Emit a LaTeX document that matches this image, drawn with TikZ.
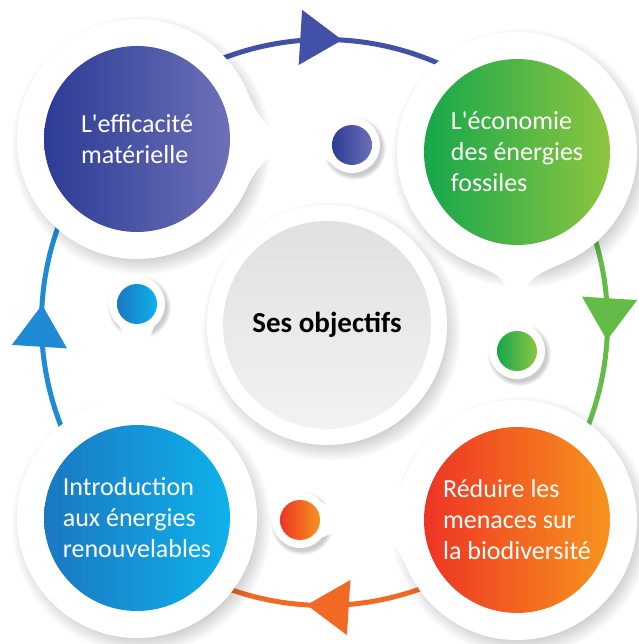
\documentclass[tikz,border=0pt]{standalone}
\usepackage{fontspec}
\setmainfont{Carlito}
\usetikzlibrary{arrows.meta, positioning, decorations.markings, fadings}

\definecolor{effblue}{HTML}{2C3B94}
\definecolor{effbluelt}{HTML}{6C70B8}
\definecolor{fosgreen}{HTML}{16A74B}
\definecolor{fosgreenlt}{HTML}{8DC63F}
\definecolor{bioorange}{HTML}{EE3424}
\definecolor{bioorangelt}{HTML}{F7941D}
\definecolor{renblue}{HTML}{1A78C2}
\definecolor{renbluelt}{HTML}{0FB1EC}
\definecolor{arcblue}{HTML}{4250A7}
\definecolor{arcgreen}{HTML}{62BC46}
\definecolor{arcorange}{HTML}{F06A25}
\definecolor{arcsky}{HTML}{1E8BD4}

\tikzset{
  plate/.style={circle, fill=white, minimum size=#1, inner sep=0pt},
  plateshadow/.style={fill=black, opacity=0.2, path fading=circle with fuzzy edge 15 percent},
  goal/.style={circle, minimum size=186pt, inner sep=0pt, text=white, align=left,
               font=\fontsize{26}{31}\selectfont},
  dot/.style={circle, minimum size=40pt, inner sep=0pt},
  ringarc/.style={line width=5pt,
    postaction={decorate, decoration={markings,
      mark=at position 0.54 with {\arrow{Triangle[length=42pt, width=54pt]}}}}},
}

% white neck from a plate to its small dot (plate centre, direction, distance)
\newcommand{\neck}[3]{%
  \begin{scope}[shift={(#1)}, rotate=#2]
    \pgfmathsetmacro\nm{(92+#3)/2}
    \fill[white] (24:120) .. controls +(-66:30) and (\nm-20,9) .. (\nm,9)
      .. controls (\nm+12,9) and (#3-24,13) .. (#3-16,22)
      -- (#3-16,-22) .. controls (#3-24,-13) and (\nm+12,-9) .. (\nm,-9)
      .. controls (\nm-20,-9) and +(66:30) .. (-24:120) -- cycle;
  \end{scope}}

\begin{document}
\begin{tikzpicture}[x=1pt, y=1pt]
  \fill[white] (0,0) rectangle (638,644);
  \useasboundingbox (0,0) rectangle (638,644);

  % centres
  \coordinate (ring) at (324.5,321.5);
  \coordinate (pa) at (137,505);
  \coordinate (pb) at (517,492);
  \coordinate (pc) at (517,124);
  \coordinate (pd) at (137,126);
  \coordinate (pe) at (327,319);
  \coordinate (da) at ([shift={(-1.6:215)}]pa);
  \coordinate (db) at ([shift={(-90:199)}]pb);
  \coordinate (dc) at ([shift={(180:217)}]pc);
  \coordinate (dd) at ([shift={(90:214)}]pd);

  % the cycle, one arc per quarter
  \draw[ringarc, arcblue] ([shift={(135:283)}]ring) arc[start angle=135, end angle=45, radius=283];
  \draw[ringarc, arcgreen] ([shift={(45:283)}]ring) arc[start angle=45, end angle=-45, radius=283];
  \draw[ringarc, arcorange] ([shift={(-45:283)}]ring) arc[start angle=-45, end angle=-135, radius=283];
  \draw[ringarc, arcsky] ([shift={(225:283)}]ring) arc[start angle=225, end angle=135, radius=283];

  % soft shadows
  \foreach \p in {pa,pb,pc,pd,pe}
    \fill[plateshadow] ([shift={(4,-6)}]\p) circle (130);
  \foreach \p in {da,db,dc,dd}
    \fill[plateshadow] ([shift={(2,-3)}]\p) circle (32);

  % white plates and necks
  \node[plate=240pt] (platea) at (pa) {};
  \node[plate=240pt] (plateb) at (pb) {};
  \node[plate=240pt] (platec) at (pc) {};
  \node[plate=240pt] (plated) at (pd) {};
  \node[plate=240pt] (platee) at (pe) {};
  \neck{pa}{-1.6}{215}
  \neck{pb}{-90}{199}
  \neck{pc}{180}{217}
  \neck{pd}{90}{214}
  \node[plate=56pt] (ringa) at (da) {};
  \node[plate=56pt] (ringb) at (db) {};
  \node[plate=56pt] (ringc) at (dc) {};
  \node[plate=56pt] (ringd) at (dd) {};

  % objectives
  \node[goal, left color=effblue, right color=effbluelt] (eff) at (pa) {L\textquotesingle efficacité\\matérielle};
  \node[goal, left color=fosgreen, right color=fosgreenlt] (fos) at (pb) {L\textquotesingle économie\\des énergies\\fossiles};
  \node[goal, left color=bioorange, right color=bioorangelt] (bio) at (pc) {Réduire les\\menaces sur\\la biodiversité};
  \node[goal, left color=renblue, right color=renbluelt] (ren) at (pd) {Introduction\\aux énergies\\renouvelables};

  \node[dot, left color=effblue, right color=effbluelt] (dota) at (da) {};
  \node[dot, left color=fosgreen, right color=fosgreenlt] (dotb) at (db) {};
  \node[dot, left color=bioorange, right color=bioorangelt] (dotc) at (dc) {};
  \node[dot, left color=renblue, right color=renbluelt] (dotd) at (dd) {};

  \node[circle, minimum size=208pt, inner sep=0pt, top color=black!12, bottom color=black!5,
        font=\bfseries\fontsize{29}{34}\selectfont] (hub) at (pe) {Ses objectifs};
\end{tikzpicture}
\end{document}
